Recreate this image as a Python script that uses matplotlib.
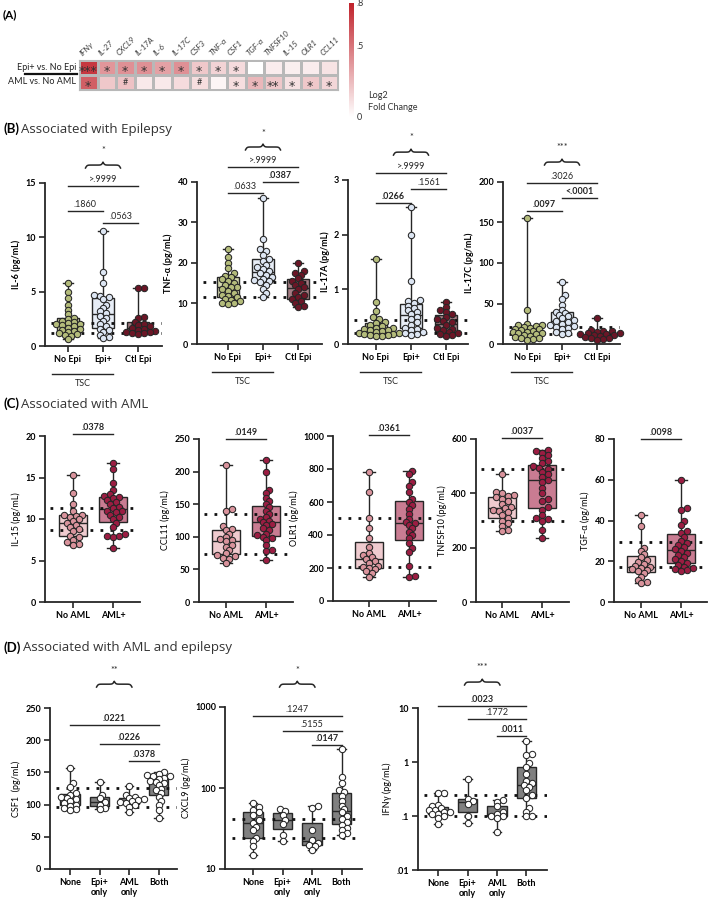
import numpy as np
import matplotlib.pyplot as plt
from matplotlib.colors import LinearSegmentedColormap
from matplotlib import transforms
from matplotlib.lines import Line2D
from matplotlib.ticker import NullLocator

plt.rcParams['font.family'] = ['Lato', 'DejaVu Sans']

# ---------------- data ----------------
# (A) heatmap: log2 fold change
cytokines = ['IFNγ', 'IL-27', 'CXCL9', 'IL-17A', 'IL-6', 'IL-17C', 'CSF3', 'TNF-α',
             'CSF1', 'TGF-α', 'TNFSF10', 'IL-15', 'OLR1', 'CCL11']
fc_epi = [0.72, 0.38, 0.40, 0.40, 0.34, 0.40, 0.20, 0.16, 0.13, 0.0, 0.07, 0.06, 0.07, 0.10]
fc_aml = [0.58, 0.20, 0.22, 0.08, 0.08, 0.13, 0.12, 0.04, 0.12, 0.26, 0.20, 0.11, 0.20, 0.15]
sig_epi = ['***', '*', '*', '*', '*', '*', '*', '*', '*', '', '', '', '', '']
sig_aml = ['*', '', '#', '', '', '', '#', '', '*', '*', '**', '*', '*', '*']
row_names = ['Epi+ vs. No Epi', 'AML vs. No AML']

# (B) epilepsy groups
epi_groups = ['No Epi', 'Epi+', 'Ctl Epi']
il6_no_epi = [5.8, 5.0, 4.4, 3.8, 3.3, 2.9, 2.6, 2.5, 2.3, 2.2, 2.1, 2.0, 2.0, 1.9, 1.8, 1.7,
              1.6, 1.5, 1.4, 1.3, 1.2, 1.1, 1.0, 0.9, 0.6]
il6_epi = [10.6, 6.8, 5.8, 4.7, 4.6, 4.5, 4.3, 3.8, 3.5, 3.2, 3.0, 2.8, 2.6, 2.3, 2.0, 1.8,
           1.6, 1.5, 1.3, 1.0, 0.8, 0.7]
il6_ctl = [5.3, 5.3, 2.7, 2.6, 2.2, 2.0, 1.9, 1.8, 1.7, 1.6, 1.5, 1.4, 1.3, 1.3, 1.2, 1.2, 1.1]
tnf_no_epi = [23.5, 21.5, 20.0, 18.8, 17.5, 16.8, 16.5, 16.0, 15.5, 15.0, 14.5, 14.0, 14.0, 13.5,
              13.0, 12.5, 12.0, 11.8, 11.5, 11.0, 10.8, 10.5, 10.2, 10.0, 9.8]
tnf_epi = [36.0, 26.0, 23.5, 23.0, 22.0, 21.0, 20.5, 19.5, 19.0, 18.5, 18.0, 17.5, 17.0, 16.5,
           16.0, 15.8, 15.5, 15.2, 14.5, 13.5, 12.5, 11.5]
tnf_ctl = [20.0, 18.0, 17.5, 17.0, 16.2, 15.5, 15.0, 14.5, 14.0, 13.5, 12.5, 12.0, 11.5, 11.0,
           10.5, 10.0, 9.5, 9.2]
il17a_no_epi = [1.55, 0.77, 0.60, 0.50, 0.45, 0.40, 0.38, 0.35, 0.33, 0.30, 0.30, 0.28, 0.26,
                0.25, 0.24, 0.22, 0.20, 0.20, 0.19, 0.18, 0.17, 0.16, 0.15, 0.14]
il17a_epi = [2.5, 2.0, 1.15, 0.80, 0.78, 0.75, 0.70, 0.65, 0.62, 0.58, 0.55, 0.50, 0.45, 0.40,
             0.35, 0.30, 0.28, 0.25, 0.22, 0.20, 0.18, 0.16]
il17a_ctl = [0.77, 0.68, 0.62, 0.58, 0.55, 0.50, 0.45, 0.42, 0.40, 0.35, 0.30, 0.28, 0.25, 0.22,
             0.20, 0.18, 0.16, 0.15]
il17c_no_epi = [155, 42, 25, 24, 23, 22, 21, 20, 19, 18, 17, 16, 15, 15, 14, 13, 12, 11, 10, 9,
                8, 7, 6, 5]
il17c_epi = [76, 60, 56, 48, 42, 40, 38, 36, 34, 32, 30, 28, 27, 25, 23, 22, 21, 20, 18, 15, 13, 12]
il17c_ctl = [32, 17, 16, 15.5, 15, 14, 13, 12.5, 12, 11, 10.5, 10, 9, 8, 7, 6, 5]

# (C) AML groups
aml_groups = ['No AML', 'AML+']
il15_no = [15.3, 13.1, 11.8, 11.0, 10.5, 10.5, 10.4, 10.2, 10.0, 9.8, 9.5, 9.3, 9.0, 8.8, 8.5,
           8.0, 7.8, 7.5, 7.2, 7.0, 6.9]
il15_aml = [16.7, 16.0, 14.3, 13.5, 13.0, 12.8, 12.7, 12.5, 12.3, 12.0, 11.8, 11.5, 11.3, 11.0,
            11.0, 10.8, 10.5, 10.3, 10.0, 9.5, 9.0, 8.2, 8.0, 7.9, 7.8, 6.5]
ccl11_no = [210, 143, 140, 116, 112, 110, 105, 100, 97, 95, 93, 88, 85, 80, 75, 72, 70, 68, 66, 60]
ccl11_aml = [218, 200, 172, 167, 160, 155, 150, 145, 140, 135, 130, 128, 125, 123, 120, 118, 113,
             110, 105, 102, 100, 98, 95, 88, 80, 78, 65]
olr1_no = [780, 660, 505, 440, 380, 330, 290, 280, 265, 255, 240, 230, 215, 205, 200, 195, 180,
           170, 145]
olr1_aml = [790, 770, 720, 700, 660, 620, 600, 580, 560, 530, 500, 480, 470, 460, 440, 420, 400,
            380, 350, 320, 300, 210, 150, 145]
tnfsf10_no = [472, 405, 400, 395, 390, 385, 380, 370, 360, 350, 345, 340, 335, 330, 320, 310,
              300, 290, 280, 265, 260]
tnfsf10_aml = [560, 555, 550, 540, 530, 520, 510, 500, 495, 490, 480, 470, 460, 450, 440, 420,
               400, 380, 370, 350, 340, 320, 310, 305, 300, 265, 235]
tgfa_no = [42.5, 37.5, 26.5, 25.0, 23.5, 22.0, 20.5, 19.5, 18.5, 17.5, 17.0, 16.5, 16.0, 15.5,
           15.0, 14.0, 12.5, 11.0, 10.0, 9.5]
tgfa_aml = [60, 46, 45, 40, 38, 35, 34, 32, 30, 29, 28, 27, 26, 25, 24, 23, 22, 21, 20, 19, 18,
            17, 16.5, 16, 15.5, 15]

# (D) combined groups
combo_groups = ['None', 'Epi+\nonly', 'AML\nonly', 'Both']
csf1_none = [157, 133, 127, 118, 115, 112, 110, 108, 105, 102, 100, 98, 95, 93, 91]
csf1_epi = [135, 115, 110, 104, 100, 95, 93]
csf1_aml = [129, 115, 112, 110, 108, 107, 105, 104, 102, 100, 97, 88]
csf1_both = [150, 148, 146, 145, 144, 142, 140, 137, 135, 133, 130, 125, 122, 118, 112, 105, 100,
             92, 79]
cxcl9_none = [65, 58, 54, 50, 46, 40, 37, 33, 30, 24, 22, 19, 15]
cxcl9_epi = [55, 52, 47, 40, 36, 26, 22]
cxcl9_aml = [60, 57, 30, 23, 21, 20, 19, 17]
cxcl9_both = [300, 135, 115, 95, 88, 80, 70, 60, 55, 50, 45, 42, 38, 35, 32, 30, 28, 26]
ifng_none = [0.27, 0.27, 0.16, 0.15, 0.14, 0.13, 0.13, 0.12, 0.12, 0.11, 0.11, 0.10, 0.09, 0.07]
ifng_epi = [0.48, 0.21, 0.19, 0.17, 0.10, 0.075]
ifng_aml = [0.20, 0.18, 0.15, 0.12, 0.11, 0.10, 0.10, 0.09, 0.05]
ifng_both = [2.5, 1.4, 1.35, 0.95, 0.8, 0.6, 0.45, 0.4, 0.38, 0.35, 0.3, 0.25, 0.22, 0.14, 0.12,
             0.10, 0.10]

# ---------------- figure ----------------
W, H = 709, 906
fig = plt.figure(figsize=(W / 100, H / 100), dpi=100)
INK = '#262626'


def px_axes(left, right, top, bottom, c0, unit):
    ax = fig.add_axes([left / W, 1 - bottom / H, (right - left) / W, (bottom - top) / H])
    ax.set_xlim((left - c0) / unit, (right - c0) / unit)
    return ax


def swarm(ax, pos, vals, d=5.8, tight=0.72):
    vals = np.asarray(vals, float)
    pix = ax.transData.transform(np.column_stack([np.full(len(vals), pos), vals]))
    unit = ax.transData.transform([[pos + 1, vals[0]]])[0, 0] - pix[0, 0]
    placed = []
    offs = np.zeros(len(vals))
    for i in np.argsort(pix[:, 1]):
        y = pix[i, 1]
        for k in range(80):
            o = ((k + 1) // 2) * d * 0.5 * (1 if k % 2 else -1)
            if all((o - qx) ** 2 + (y - qy) ** 2 >= (d * tight) ** 2 for qx, qy in placed):
                break
        placed.append((o, y))
        offs[i] = o
    return pos + offs / unit


def panel(ax, groups, faces, fills, width, cats, ylim, yticks, ylabels, ylabel,
          refs, log=False, ybold=True):
    if log:
        ax.set_yscale('log')
    ax.set_ylim(*ylim)
    xl = ax.get_xlim()
    bp = ax.boxplot(groups, positions=range(len(groups)), widths=width, whis=(0, 100),
                    patch_artist=True, showfliers=False, manage_ticks=False, capwidths=0.28,
                    boxprops=dict(edgecolor=INK, lw=1.0),
                    medianprops=dict(color=INK, lw=1.0),
                    whiskerprops=dict(color=INK, lw=1.0),
                    capprops=dict(color=INK, lw=1.0), zorder=2)
    for b, c in zip(bp['boxes'], fills):
        b.set_facecolor(c)
    ax.set_xlim(*xl)
    ax.set_ylim(*ylim)
    for r in refs:
        ax.axhline(r, xmin=0.05, xmax=1.0, color='#111111', lw=2.0, ls=(0, (1, 2.6)), zorder=3)
    for i, vals in enumerate(groups):
        xs = swarm(ax, i, vals)
        ax.scatter(xs, vals, s=21, facecolor=faces[i], edgecolor=INK, lw=0.75, zorder=4,
                   clip_on=False)
    for s in ['top', 'right']:
        ax.spines[s].set_visible(False)
    for s in ['left', 'bottom']:
        ax.spines[s].set_linewidth(1.3)
        ax.spines[s].set_color(INK)
    ax.set_xticks(range(len(cats)))
    ax.set_xticklabels(cats, fontweight='bold', fontsize=6.5, linespacing=1.15)
    ax.set_yticks(yticks)
    ax.set_yticklabels(ylabels, fontweight='bold', fontsize=6.5)
    ax.yaxis.set_minor_locator(NullLocator())
    ax.tick_params(length=4, width=1.2, pad=2.5, color=INK)
    ax.set_ylabel(ylabel, fontweight='bold' if ybold else 'normal', fontsize=6.5, labelpad=3)


def sig_bar(ax, x0, x1, yf, label, bold):
    tr = transforms.blended_transform_factory(ax.transData, ax.transAxes)
    ax.plot([x0, x1], [yf, yf], transform=tr, color=INK, lw=1.0, clip_on=False)
    ttr = transforms.offset_copy(tr, fig=fig, y=1.2, units='points')
    ax.text((x0 + x1) / 2, yf, label, transform=ttr, ha='center', va='bottom', fontsize=6.5,
            fontweight='bold' if bold else 'normal', color=INK)


def brace(ax, xc, half, yf, star, star_yf, hf=0.036):
    tr = transforms.blended_transform_factory(ax.transData, ax.transAxes)
    u = np.linspace(0, 0.5, 60)
    beta = 45.0
    yh = 1 / (1 + np.exp(-beta * u)) + 1 / (1 + np.exp(-beta * (u - 0.5))) - 0.5
    y = np.concatenate([yh, yh[-2::-1]])
    x = np.linspace(xc - half, xc + half, len(y))
    ax.plot(x, yf + hf * y, transform=tr, color=INK, lw=1.1, clip_on=False)
    ax.text(xc, star_yf, star, transform=tr, ha='center', va='center', fontsize=6.5, color=INK)


# ---------------- (A) heatmap ----------------
fig.text(3 / W, 1 - 15 / H, '(A)', fontweight='bold', fontsize=8.5, va='center')
axh = fig.add_axes([79 / W, 1 - 90 / H, (338 - 79) / W, 30 / H])
cmap = LinearSegmentedColormap.from_list('fc', ['#ffffff', '#c0222b'])
mesh = axh.pcolormesh(np.array([fc_epi, fc_aml]), cmap=cmap, vmin=0, vmax=0.8,
                      edgecolors='#b8b8b8', linewidth=0.8)
axh.set_xlim(0, len(cytokines))
axh.set_ylim(2, 0)
axh.set_xticks([])
axh.set_yticks([])
for s in axh.spines.values():
    s.set_color('#b8b8b8')
    s.set_linewidth(0.8)
for j, name in enumerate(cytokines):
    axh.text(j + 0.25, -0.2, name, rotation=45, ha='left', va='bottom', rotation_mode='anchor',
             fontsize=5.8, style='italic', color='#3a3a3a')
for r, sig in enumerate([sig_epi, sig_aml]):
    for j, s in enumerate(sig):
        if s == '#':
            axh.text(j + 0.5, r + 0.5, s, ha='center', va='center', fontsize=6.5,
                     color='#333333')
        elif s:
            axh.text(j + 0.5, r + 0.78, s, ha='center', va='center', fontsize=9,
                     color='#333333', family=['DejaVu Sans'])
for r, name in enumerate(row_names):
    fig.text(76 / W, 1 - (67 + 15 * r) / H, name, ha='right', va='center', fontsize=6.5,
             color='#222222')
fig.add_artist(Line2D([25 / W, 77 / W], [1 - 74 / H] * 2, lw=1.6, color='#111111'))

cax = fig.add_axes([349 / W, 1 - 117 / H, 5 / W, 114 / H])
cb = fig.colorbar(mesh, cax=cax, ticks=[0, 0.5, 0.8])
cb.ax.set_yticklabels(['0', '.5', '.8'])
cb.outline.set_visible(False)
cb.ax.tick_params(length=0, labelsize=6.5, pad=2, labelcolor='#333333')
fig.text(368 / W, 1 - 95 / H, 'Log2', fontsize=6.5, va='center', color='#333333')
fig.text(368 / W, 1 - 108 / H, 'Fold Change', fontsize=6.5, va='center', color='#333333')


def section(y, tag, title, gap):
    fig.text(3 / W, 1 - y / H, tag, fontweight='bold', fontsize=9.5, va='center')
    fig.text(gap / W, 1 - y / H, title, fontsize=9.5, va='center', color='#333333',
             family=['Open Sans', 'DejaVu Sans'])


# ---------------- (B) ----------------
section(129, '(B)', 'Associated with Epilepsy', 21)
b_faces = ['#b4bc7b', '#dde6f3', '#6b1626']
b_fills = ['#d6dab0', '#e7edf6', '#a47c83']
b_specs = [
    ((45, 162, 183, 346, 68), [il6_no_epi, il6_epi, il6_ctl], (0, 15), [0, 5, 10, 15],
     ['0', '5', '10', '15'], 'IL-6 (pg/mL)', [2.1, 1.2],
     [(0, 2, 0.982, '>.9999', False), (0, 1, 0.828, '.1860', False), (1, 2, 0.755, '.0563', False)],
     (1.092, '*', 1.20)),
    ((197, 322, 182, 344, 228), [tnf_no_epi, tnf_epi, tnf_ctl], (0, 40), [0, 10, 20, 30, 40],
     ['0', '10', '20', '30', '40'], 'TNF-α (pg/mL)', [15.4, 11.7],
     [(0, 2, 1.093, '>.9999', False), (1, 2, 1.0, '.0387', True), (0, 1, 0.932, '.0633', False)],
     (1.198, '*', 1.30)),
    ((348, 468, 180, 344, 376), [il17a_no_epi, il17a_epi, il17a_ctl], (0, 3), [0, 1, 2, 3],
     ['0', '1', '2', '3'], 'IL-17A (pg/mL)', [0.44, 0.2],
     [(0, 2, 1.043, '>.9999', False), (1, 2, 0.945, '.1561', False), (0, 1, 0.86, '.0266', True)],
     (1.152, '*', 1.26)),
    ((503, 620, 182, 344, 527), [il17c_no_epi, il17c_epi, il17c_ctl], (0, 200),
     [0, 50, 100, 150, 200], ['0', '50', '100', '150', '200'], 'IL-17C (pg/mL)', [21, 12],
     [(0, 2, 0.994, '.3026', False), (1, 2, 0.901, '<.0001', True), (0, 1, 0.821, '.0097', True)],
     (1.105, '***', 1.216)),
]
for (l, r, t, b, c0), groups, ylim, yt, yl, ylab, refs, bars, (bf, st, sf) in b_specs:
    ax = px_axes(l, r, t, b, c0, 35)
    panel(ax, groups, b_faces, b_fills, 0.65, epi_groups, ylim, yt, yl, ylab, refs)
    for x0, x1, yf, lab, bold in bars:
        sig_bar(ax, x0, x1, yf, lab, bold)
    brace(ax, 1, 0.5, bf, st, sf)
    tr = transforms.blended_transform_factory(ax.transData, ax.transAxes)
    hpx = b - t
    ax.plot([-0.46, 1.29], [-28 / hpx] * 2, transform=tr, color=INK, lw=1.0, clip_on=False)
    ax.text(0.42, -38 / hpx, 'TSC', transform=tr, ha='center', va='center', fontsize=6.5,
            color=INK)

# ---------------- (C) ----------------
section(404, '(C)', 'Associated with AML', 21)
c_faces = ['#d9939c', '#9b1d42']
c_fills = ['#efcbcf', '#c97c92']
c_specs = [
    ((45, 140, 436, 602, 73), [il15_no, il15_aml], (0, 20), [0, 5, 10, 15, 20],
     ['0', '5', '10', '15', '20'], 'IL-15 (pg/mL)', [11.3, 8.7], 1.012, '.0378'),
    ((199, 293, 439, 602, 226), [ccl11_no, ccl11_aml], (0, 250), [0, 50, 100, 150, 200, 250],
     ['0', '50', '100', '150', '200', '250'], 'CCL11 (pg/mL)', [135, 74], 1.0, '.0149'),
    ((333, 436, 436, 601, 369), [olr1_no, olr1_aml], (0, 1000), [0, 200, 400, 600, 800, 1000],
     ['0', '200', '400', '600', '800', '1000'], 'OLR1 (pg/mL)', [505, 205], 1.006, '.0361'),
    ((476, 569, 439, 602, 502), [tnfsf10_no, tnfsf10_aml], (0, 600), [0, 200, 400, 600],
     ['0', '200', '400', '600'], 'TNFSF10 (pg/mL)', [490, 298], 1.006, '.0037'),
    ((614, 707, 439, 602, 641), [tgfa_no, tgfa_aml], (0, 80), [0, 20, 40, 60, 80],
     ['0', '20', '40', '60', '80'], 'TGF-α (pg/mL)', [29.4, 17.2], 1.0, '.0098'),
]
for (l, r, t, b, c0), groups, ylim, yt, yl, ylab, refs, yf, lab in c_specs:
    ax = px_axes(l, r, t, b, c0, 40)
    panel(ax, groups, c_faces, c_fills, 0.7, aml_groups, ylim, yt, yl, ylab, refs, ybold=False)
    sig_bar(ax, 0, 1, yf, lab, True)

# ---------------- (D) ----------------
section(648, '(D)', 'Associated with AML and epilepsy', 23)
d_faces = ['#ffffff'] * 4
d_fills = ['#808080'] * 4
d_specs = [
    ((50, 177, 708, 869, 70), [csf1_none, csf1_epi, csf1_aml, csf1_both], (0, 250), False,
     [0, 50, 100, 150, 200, 250], ['0', '50', '100', '150', '200', '250'], 'CSF1  (pg/mL)',
     [126, 96],
     [(0, 3, 0.894, '.0221', True), (1, 3, 0.776, '.0226', True), (2, 3, 0.671, '.0378', True)],
     (1.13, '**', 1.236)),
    ((225, 362, 707, 869, 253), [cxcl9_none, cxcl9_epi, cxcl9_aml, cxcl9_both], (10, 1000), True,
     [10, 100, 1000], ['10', '100', '1000'], 'CXCL9 (pg/mL)', [42, 24],
     [(0, 3, 0.944, '.1247', False), (1, 3, 0.852, '.5155', False), (2, 3, 0.765, '.0147', True)],
     (1.123, '*', 1.228)),
    ((418, 547, 708, 870, 438), [ifng_none, ifng_epi, ifng_aml, ifng_both], (0.01, 10), True,
     [0.01, 0.1, 1, 10], ['.01', '.1', '1', '10'], 'IFNγ (pg/mL)', [0.25, 0.1],
     [(0, 3, 1.012, '.0023', True), (1, 3, 0.932, '.1772', False), (2, 3, 0.827, '.0011', True)],
     (1.142, '***', 1.247)),
]
for (l, r, t, b, c0), groups, ylim, lg, yt, yl, ylab, refs, bars, (bf, st, sf) in d_specs:
    ax = px_axes(l, r, t, b, c0, 29.5)
    panel(ax, groups, d_faces, d_fills, 0.65, combo_groups, ylim, yt, yl, ylab, refs, log=lg,
          ybold=False)
    for x0, x1, yf, lab, bold in bars:
        sig_bar(ax, x0, x1, yf, lab, bold)
    brace(ax, 1.5, 0.6, bf, st, sf)

fig.savefig('out.png', dpi=100)
